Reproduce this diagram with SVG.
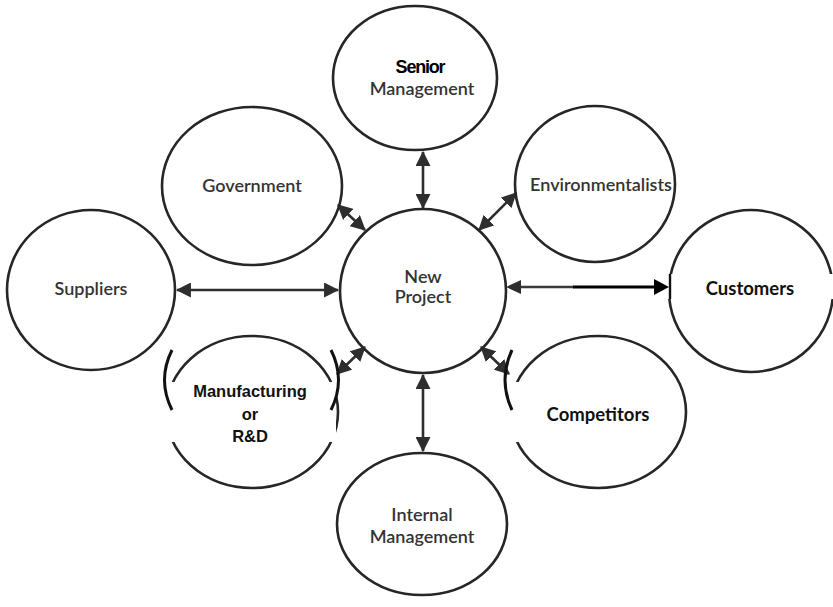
<svg xmlns="http://www.w3.org/2000/svg" width="833" height="607" viewBox="0 0 833 607">
  <style>
    .node { fill: none; stroke: #262626; stroke-width: 2.6; }
    .lbl { font-family: Lato, "Open Sans", sans-serif; font-size: 18px; font-weight: 600; fill: #333; text-anchor: middle; }
    .blk { font-family: "Liberation Sans", Arial, sans-serif; font-size: 16.5px; font-weight: bold; fill: #111; text-anchor: middle; }
    .blk2 { font-family: Lato, "Open Sans", sans-serif; font-size: 18.5px; font-weight: bold; fill: #111; text-anchor: middle; }
    .patch { fill: #ffffff; }
    .paren { fill: none; stroke: #111; stroke-width: 3; }
    .link { stroke: #2e2e2e; stroke-width: 2.6; fill: none; marker-start: url(#head); marker-end: url(#head); }
  </style>
  <defs>
    <marker id="head" viewBox="0 0 14 14" refX="13" refY="7" markerWidth="15" markerHeight="15" markerUnits="userSpaceOnUse" orient="auto-start-reverse">
      <path d="M0,0 L14,7 L0,14 Z" fill="#2e2e2e"/>
    </marker>
  </defs>

  <!-- paper -->
  <rect x="0" y="0" width="833" height="607" fill="#ffffff"/>

  <g id="connectors">
    <line class="link" x1="423" y1="152" x2="423" y2="208"/>
    <line class="link" x1="423" y1="375" x2="423" y2="451"/>
    <line class="link" x1="177" y1="290" x2="338" y2="290"/>
    <line class="link" x1="338" y1="205" x2="365" y2="230"/>
    <line class="link" x1="516" y1="193" x2="479" y2="230"/>
    <line class="link" x1="337" y1="374" x2="365" y2="347"/>
    <line class="link" x1="509" y1="374" x2="481" y2="347"/>
    <!-- customers link: grey left part, heavier black right part -->
    <line x1="518" y1="287" x2="574" y2="287" stroke="#3a3a3a" stroke-width="2.6"/>
    <path d="M521,280 L506,287 L521,294 Z" fill="#2e2e2e"/>
  </g>

  <g id="new-project">
    <ellipse class="node" cx="423" cy="291" rx="83" ry="82"/>
    <text class="lbl" x="423" y="283">New</text>
    <text class="lbl" x="423" y="303">Project</text>
  </g>

  <g id="senior-management">
    <ellipse class="node" cx="415" cy="78" rx="82" ry="72"/>
    <text x="420" y="73" font-family="'Liberation Sans', Arial, sans-serif" font-size="18" font-weight="bold" letter-spacing="-1.2" fill="#000" text-anchor="middle">Senior</text>
    <text class="lbl" x="422" y="95">Management</text>
  </g>

  <g id="government">
    <ellipse class="node" cx="252" cy="186" rx="90" ry="79"/>
    <text class="lbl" x="252" y="192">Government</text>
  </g>

  <g id="environmentalists">
    <ellipse class="node" cx="595" cy="184" rx="80" ry="78"/>
    <text class="lbl" x="601" y="191">Environmentalists</text>
  </g>

  <g id="suppliers">
    <ellipse class="node" cx="91" cy="290" rx="84" ry="80"/>
    <text class="lbl" x="91" y="295">Suppliers</text>
  </g>

  <g id="customers">
    <ellipse class="node" cx="751" cy="291" rx="82" ry="81"/>
    <rect class="patch" x="574" y="274" width="259" height="25"/>
    <line x1="670" y1="274" x2="670" y2="299" stroke="#111" stroke-width="2.4"/>
    <line x1="573" y1="287" x2="656" y2="287" stroke="#000" stroke-width="3"/>
    <path d="M654,279 L669,287 L654,295 Z" fill="#000"/>
    <text class="blk2" x="750" y="295">Customers</text>
  </g>

  <g id="manufacturing">
    <ellipse class="node" cx="252" cy="412" rx="86" ry="76"/>
    <rect class="patch" x="160" y="382" width="176" height="60"/>
    <path class="paren" d="M172,350 Q157,380 172,410"/>
    <path class="paren" d="M331,350 Q346,380 331,410"/>
    <text class="blk" x="250" y="397">Manufacturing</text>
    <text class="blk" x="250" y="420">or</text>
    <text class="blk" x="250" y="442">R&amp;D</text>
  </g>

  <g id="competitors">
    <ellipse class="node" cx="598" cy="412" rx="88" ry="76"/>
    <rect class="patch" x="507" y="382" width="168" height="60"/>
    <path class="paren" d="M512,350 Q498,380 512,410"/>
    <text class="blk2" x="598" y="421">Competitors</text>
  </g>

  <g id="internal-management">
    <ellipse class="node" cx="422" cy="524" rx="85" ry="71"/>
    <text class="lbl" x="422" y="521">Internal</text>
    <text class="lbl" x="422" y="543">Management</text>
  </g>
</svg>
